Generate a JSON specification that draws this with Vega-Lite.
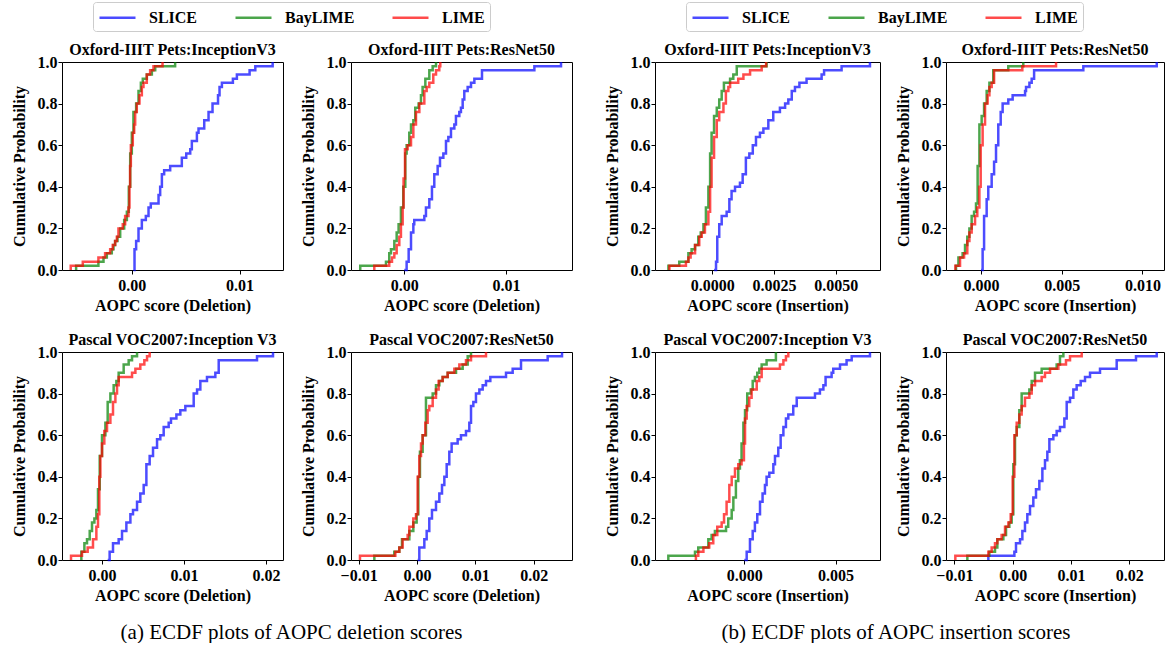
{
"$schema": "https://vega.github.io/schema/vega-lite/v6.json",
"padding": {"left": 10, "top": 1, "right": 0, "bottom": 0},
"background": "white",
"config": {
 "font": "Liberation Serif",
 "view": {"stroke": "#000000", "strokeWidth": 1},
 "axis": {"grid": false, "domain": false, "ticks": true, "tickColor": "#000000", "tickSize": 4, "tickWidth": 1, "labelFont": "Liberation Serif", "labelFontWeight": "bold", "labelFontSize": 16, "labelColor": "#000000", "labelPadding": 3, "labelFlush": false, "labelOverlap": false, "titleFont": "Liberation Serif", "titleFontWeight": "bold", "titleFontSize": 16, "titleColor": "#000000"},
 "axisX": {"titlePadding": 4},
 "axisY": {"titlePadding": 10, "labelPadding": 1},
 "title": {"font": "Liberation Serif", "fontWeight": "bold", "fontSize": 16, "color": "#000000", "offset": -4, "frame": "group", "anchor": "middle"},
 "legend": {"orient": "top", "direction": "horizontal", "symbolType": "M-1,0H3", "symbolSize": 324, "symbolStrokeWidth": 2.5, "symbolOpacity": 0.7, "labelFont": "Liberation Serif", "labelFontWeight": "bold", "labelFontSize": 16, "labelColor": "#000000", "labelOffset": 30, "columnPadding": 32, "padding": 5, "strokeColor": "#cccccc", "cornerRadius": 3, "fillColor": "#ffffff", "offset": 10, "layout": {"top": {"anchor": "middle"}}}
},
"datasets": {
"p1": [
{"method":"SLICE","score":0.00015,"prob":0},{"method":"SLICE","score":0.00025,"prob":0.1},{"method":"SLICE","score":0.0004,"prob":0.14},{"method":"SLICE","score":0.00062,"prob":0.2},{"method":"SLICE","score":0.00093,"prob":0.24},{"method":"SLICE","score":0.0013,"prob":0.26},{"method":"SLICE","score":0.00155,"prob":0.3},{"method":"SLICE","score":0.00176,"prob":0.32},{"method":"SLICE","score":0.00248,"prob":0.36},{"method":"SLICE","score":0.00263,"prob":0.4},{"method":"SLICE","score":0.00279,"prob":0.46},{"method":"SLICE","score":0.003,"prob":0.48},{"method":"SLICE","score":0.00356,"prob":0.5},{"method":"SLICE","score":0.00464,"prob":0.54},{"method":"SLICE","score":0.00505,"prob":0.56},{"method":"SLICE","score":0.00542,"prob":0.58},{"method":"SLICE","score":0.00557,"prob":0.62},{"method":"SLICE","score":0.00604,"prob":0.66},{"method":"SLICE","score":0.00619,"prob":0.68},{"method":"SLICE","score":0.00672,"prob":0.72},{"method":"SLICE","score":0.00712,"prob":0.76},{"method":"SLICE","score":0.00749,"prob":0.8},{"method":"SLICE","score":0.008,"prob":0.84},{"method":"SLICE","score":0.00814,"prob":0.88},{"method":"SLICE","score":0.00836,"prob":0.9},{"method":"SLICE","score":0.00938,"prob":0.92},{"method":"SLICE","score":0.00975,"prob":0.94},{"method":"SLICE","score":0.01093,"prob":0.96},{"method":"SLICE","score":0.01146,"prob":0.98},{"method":"SLICE","score":0.01307,"prob":1.0},
{"method":"BayLIME","score":-0.00517,"prob":0},{"method":"BayLIME","score":-0.00517,"prob":0.02},{"method":"BayLIME","score":-0.0031,"prob":0.04},{"method":"BayLIME","score":-0.00263,"prob":0.06},{"method":"BayLIME","score":-0.00232,"prob":0.08},{"method":"BayLIME","score":-0.00186,"prob":0.1},{"method":"BayLIME","score":-0.0017,"prob":0.12},{"method":"BayLIME","score":-0.00155,"prob":0.14},{"method":"BayLIME","score":-0.00133,"prob":0.16},{"method":"BayLIME","score":-0.00108,"prob":0.2},{"method":"BayLIME","score":-0.00071,"prob":0.24},{"method":"BayLIME","score":-0.00046,"prob":0.28},{"method":"BayLIME","score":-0.00028,"prob":0.4},{"method":"BayLIME","score":-0.00015,"prob":0.56},{"method":"BayLIME","score":0,"prob":0.66},{"method":"BayLIME","score":0.00015,"prob":0.76},{"method":"BayLIME","score":0.0004,"prob":0.8},{"method":"BayLIME","score":0.00062,"prob":0.86},{"method":"BayLIME","score":0.00084,"prob":0.9},{"method":"BayLIME","score":0.00102,"prob":0.92},{"method":"BayLIME","score":0.00139,"prob":0.94},{"method":"BayLIME","score":0.00186,"prob":0.96},{"method":"BayLIME","score":0.00217,"prob":0.98},{"method":"BayLIME","score":0.00402,"prob":1.0},
{"method":"LIME","score":-0.00567,"prob":0},{"method":"LIME","score":-0.00567,"prob":0.02},{"method":"LIME","score":-0.00455,"prob":0.04},{"method":"LIME","score":-0.0031,"prob":0.06},{"method":"LIME","score":-0.00248,"prob":0.08},{"method":"LIME","score":-0.00201,"prob":0.1},{"method":"LIME","score":-0.00177,"prob":0.12},{"method":"LIME","score":-0.00155,"prob":0.14},{"method":"LIME","score":-0.00139,"prob":0.16},{"method":"LIME","score":-0.00124,"prob":0.2},{"method":"LIME","score":-0.00084,"prob":0.22},{"method":"LIME","score":-0.00062,"prob":0.26},{"method":"LIME","score":-0.00031,"prob":0.3},{"method":"LIME","score":-0.00022,"prob":0.4},{"method":"LIME","score":-0.00016,"prob":0.5},{"method":"LIME","score":-0.00009,"prob":0.6},{"method":"LIME","score":0.00009,"prob":0.66},{"method":"LIME","score":0.00022,"prob":0.7},{"method":"LIME","score":0.00031,"prob":0.76},{"method":"LIME","score":0.00046,"prob":0.8},{"method":"LIME","score":0.00071,"prob":0.84},{"method":"LIME","score":0.00093,"prob":0.88},{"method":"LIME","score":0.00108,"prob":0.9},{"method":"LIME","score":0.00139,"prob":0.94},{"method":"LIME","score":0.0017,"prob":0.96},{"method":"LIME","score":0.00201,"prob":0.98},{"method":"LIME","score":0.00285,"prob":1.0}
],
"p2": [
{"method":"SLICE","score":0,"prob":0},{"method":"SLICE","score":0.00023,"prob":0.04},{"method":"SLICE","score":0.00043,"prob":0.1},{"method":"SLICE","score":0.00066,"prob":0.18},{"method":"SLICE","score":0.00089,"prob":0.22},{"method":"SLICE","score":0.00098,"prob":0.24},{"method":"SLICE","score":0.00197,"prob":0.26},{"method":"SLICE","score":0.00213,"prob":0.3},{"method":"SLICE","score":0.00246,"prob":0.34},{"method":"SLICE","score":0.00272,"prob":0.4},{"method":"SLICE","score":0.00295,"prob":0.46},{"method":"SLICE","score":0.00328,"prob":0.5},{"method":"SLICE","score":0.00351,"prob":0.54},{"method":"SLICE","score":0.00384,"prob":0.56},{"method":"SLICE","score":0.0041,"prob":0.62},{"method":"SLICE","score":0.00433,"prob":0.64},{"method":"SLICE","score":0.00459,"prob":0.68},{"method":"SLICE","score":0.00492,"prob":0.7},{"method":"SLICE","score":0.00508,"prob":0.74},{"method":"SLICE","score":0.00541,"prob":0.76},{"method":"SLICE","score":0.00557,"prob":0.78},{"method":"SLICE","score":0.00574,"prob":0.82},{"method":"SLICE","score":0.0059,"prob":0.86},{"method":"SLICE","score":0.00623,"prob":0.88},{"method":"SLICE","score":0.00656,"prob":0.9},{"method":"SLICE","score":0.00689,"prob":0.92},{"method":"SLICE","score":0.00764,"prob":0.96},{"method":"SLICE","score":0.01279,"prob":0.98},{"method":"SLICE","score":0.01541,"prob":1.0},
{"method":"BayLIME","score":-0.00433,"prob":0},{"method":"BayLIME","score":-0.00433,"prob":0.02},{"method":"BayLIME","score":-0.0018,"prob":0.04},{"method":"BayLIME","score":-0.00148,"prob":0.08},{"method":"BayLIME","score":-0.00131,"prob":0.1},{"method":"BayLIME","score":-0.00098,"prob":0.14},{"method":"BayLIME","score":-0.00075,"prob":0.18},{"method":"BayLIME","score":-0.00056,"prob":0.22},{"method":"BayLIME","score":-0.00033,"prob":0.3},{"method":"BayLIME","score":-0.0001,"prob":0.4},{"method":"BayLIME","score":0.0001,"prob":0.56},{"method":"BayLIME","score":0.00023,"prob":0.6},{"method":"BayLIME","score":0.00049,"prob":0.66},{"method":"BayLIME","score":0.00066,"prob":0.7},{"method":"BayLIME","score":0.00089,"prob":0.72},{"method":"BayLIME","score":0.00108,"prob":0.78},{"method":"BayLIME","score":0.00141,"prob":0.8},{"method":"BayLIME","score":0.00164,"prob":0.84},{"method":"BayLIME","score":0.0018,"prob":0.88},{"method":"BayLIME","score":0.00207,"prob":0.92},{"method":"BayLIME","score":0.00246,"prob":0.96},{"method":"BayLIME","score":0.00279,"prob":0.98},{"method":"BayLIME","score":0.00312,"prob":1.0},
{"method":"LIME","score":-0.00295,"prob":0},{"method":"LIME","score":-0.00295,"prob":0.02},{"method":"LIME","score":-0.00148,"prob":0.04},{"method":"LIME","score":-0.00121,"prob":0.06},{"method":"LIME","score":-0.00098,"prob":0.08},{"method":"LIME","score":-0.00075,"prob":0.12},{"method":"LIME","score":-0.00049,"prob":0.16},{"method":"LIME","score":-0.00033,"prob":0.22},{"method":"LIME","score":-0.00016,"prob":0.3},{"method":"LIME","score":-0.00007,"prob":0.44},{"method":"LIME","score":0.00007,"prob":0.58},{"method":"LIME","score":0.00033,"prob":0.6},{"method":"LIME","score":0.00066,"prob":0.64},{"method":"LIME","score":0.00089,"prob":0.7},{"method":"LIME","score":0.00115,"prob":0.76},{"method":"LIME","score":0.00148,"prob":0.8},{"method":"LIME","score":0.00197,"prob":0.86},{"method":"LIME","score":0.0022,"prob":0.88},{"method":"LIME","score":0.00246,"prob":0.9},{"method":"LIME","score":0.00285,"prob":0.94},{"method":"LIME","score":0.00312,"prob":0.96},{"method":"LIME","score":0.00344,"prob":0.98},{"method":"LIME","score":0.00354,"prob":1.0}
],
"p3": [
{"method":"SLICE","score":0.00007,"prob":0},{"method":"SLICE","score":0.00015,"prob":0.04},{"method":"SLICE","score":0.0002,"prob":0.16},{"method":"SLICE","score":0.00028,"prob":0.22},{"method":"SLICE","score":0.00038,"prob":0.26},{"method":"SLICE","score":0.00058,"prob":0.28},{"method":"SLICE","score":0.00069,"prob":0.34},{"method":"SLICE","score":0.00078,"prob":0.38},{"method":"SLICE","score":0.00092,"prob":0.4},{"method":"SLICE","score":0.00112,"prob":0.42},{"method":"SLICE","score":0.00123,"prob":0.46},{"method":"SLICE","score":0.00136,"prob":0.54},{"method":"SLICE","score":0.0015,"prob":0.56},{"method":"SLICE","score":0.00164,"prob":0.6},{"method":"SLICE","score":0.00177,"prob":0.64},{"method":"SLICE","score":0.00193,"prob":0.66},{"method":"SLICE","score":0.00207,"prob":0.68},{"method":"SLICE","score":0.00227,"prob":0.72},{"method":"SLICE","score":0.00247,"prob":0.76},{"method":"SLICE","score":0.00274,"prob":0.78},{"method":"SLICE","score":0.00295,"prob":0.8},{"method":"SLICE","score":0.00308,"prob":0.82},{"method":"SLICE","score":0.00322,"prob":0.86},{"method":"SLICE","score":0.00335,"prob":0.88},{"method":"SLICE","score":0.00353,"prob":0.9},{"method":"SLICE","score":0.00382,"prob":0.92},{"method":"SLICE","score":0.00443,"prob":0.94},{"method":"SLICE","score":0.00453,"prob":0.96},{"method":"SLICE","score":0.00524,"prob":0.98},{"method":"SLICE","score":0.00639,"prob":1.0},
{"method":"BayLIME","score":-0.00178,"prob":0},{"method":"BayLIME","score":-0.00178,"prob":0.02},{"method":"BayLIME","score":-0.00134,"prob":0.04},{"method":"BayLIME","score":-0.00097,"prob":0.08},{"method":"BayLIME","score":-0.00084,"prob":0.1},{"method":"BayLIME","score":-0.0007,"prob":0.12},{"method":"BayLIME","score":-0.00057,"prob":0.16},{"method":"BayLIME","score":-0.00047,"prob":0.18},{"method":"BayLIME","score":-0.00036,"prob":0.22},{"method":"BayLIME","score":-0.00026,"prob":0.3},{"method":"BayLIME","score":-0.00016,"prob":0.4},{"method":"BayLIME","score":-0.00009,"prob":0.56},{"method":"BayLIME","score":-0.00003,"prob":0.66},{"method":"BayLIME","score":0.00007,"prob":0.74},{"method":"BayLIME","score":0.00018,"prob":0.78},{"method":"BayLIME","score":0.00028,"prob":0.82},{"method":"BayLIME","score":0.00038,"prob":0.86},{"method":"BayLIME","score":0.00047,"prob":0.9},{"method":"BayLIME","score":0.00072,"prob":0.92},{"method":"BayLIME","score":0.00085,"prob":0.94},{"method":"BayLIME","score":0.00099,"prob":0.98},{"method":"BayLIME","score":0.0022,"prob":1.0},
{"method":"LIME","score":-0.00174,"prob":0},{"method":"LIME","score":-0.00174,"prob":0.02},{"method":"LIME","score":-0.00107,"prob":0.04},{"method":"LIME","score":-0.00097,"prob":0.06},{"method":"LIME","score":-0.00088,"prob":0.08},{"method":"LIME","score":-0.0007,"prob":0.12},{"method":"LIME","score":-0.00053,"prob":0.16},{"method":"LIME","score":-0.00043,"prob":0.18},{"method":"LIME","score":-0.0003,"prob":0.22},{"method":"LIME","score":-0.00016,"prob":0.28},{"method":"LIME","score":-0.00009,"prob":0.4},{"method":"LIME","score":-0.00003,"prob":0.54},{"method":"LIME","score":0.00007,"prob":0.64},{"method":"LIME","score":0.00018,"prob":0.72},{"method":"LIME","score":0.00028,"prob":0.76},{"method":"LIME","score":0.00045,"prob":0.8},{"method":"LIME","score":0.00055,"prob":0.86},{"method":"LIME","score":0.00065,"prob":0.88},{"method":"LIME","score":0.00072,"prob":0.9},{"method":"LIME","score":0.00105,"prob":0.92},{"method":"LIME","score":0.00126,"prob":0.94},{"method":"LIME","score":0.00153,"prob":0.96},{"method":"LIME","score":0.002,"prob":0.98},{"method":"LIME","score":0.00218,"prob":1.0}
],
"p4": [
{"method":"SLICE","score":0,"prob":0},{"method":"SLICE","score":0.0001,"prob":0.1},{"method":"SLICE","score":0.00019,"prob":0.26},{"method":"SLICE","score":0.00035,"prob":0.34},{"method":"SLICE","score":0.00045,"prob":0.4},{"method":"SLICE","score":0.00066,"prob":0.46},{"method":"SLICE","score":0.00081,"prob":0.52},{"method":"SLICE","score":0.00093,"prob":0.6},{"method":"SLICE","score":0.00107,"prob":0.7},{"method":"SLICE","score":0.00122,"prob":0.76},{"method":"SLICE","score":0.00134,"prob":0.8},{"method":"SLICE","score":0.00169,"prob":0.82},{"method":"SLICE","score":0.00196,"prob":0.84},{"method":"SLICE","score":0.00273,"prob":0.86},{"method":"SLICE","score":0.00279,"prob":0.88},{"method":"SLICE","score":0.003,"prob":0.9},{"method":"SLICE","score":0.00314,"prob":0.92},{"method":"SLICE","score":0.00329,"prob":0.96},{"method":"SLICE","score":0.00634,"prob":0.98},{"method":"SLICE","score":0.01089,"prob":1.0},
{"method":"BayLIME","score":-0.00155,"prob":0},{"method":"BayLIME","score":-0.00155,"prob":0.02},{"method":"BayLIME","score":-0.0014,"prob":0.06},{"method":"BayLIME","score":-0.00114,"prob":0.08},{"method":"BayLIME","score":-0.00099,"prob":0.12},{"method":"BayLIME","score":-0.00085,"prob":0.16},{"method":"BayLIME","score":-0.00072,"prob":0.2},{"method":"BayLIME","score":-0.00058,"prob":0.26},{"method":"BayLIME","score":-0.00043,"prob":0.28},{"method":"BayLIME","score":-0.00031,"prob":0.32},{"method":"BayLIME","score":-0.00021,"prob":0.5},{"method":"BayLIME","score":-0.0001,"prob":0.7},{"method":"BayLIME","score":0.00004,"prob":0.74},{"method":"BayLIME","score":0.00019,"prob":0.8},{"method":"BayLIME","score":0.00035,"prob":0.86},{"method":"BayLIME","score":0.00052,"prob":0.9},{"method":"BayLIME","score":0.00076,"prob":0.96},{"method":"BayLIME","score":0.00169,"prob":0.98},{"method":"BayLIME","score":0.00262,"prob":1.0},
{"method":"LIME","score":-0.00159,"prob":0},{"method":"LIME","score":-0.00159,"prob":0.02},{"method":"LIME","score":-0.0013,"prob":0.06},{"method":"LIME","score":-0.00105,"prob":0.08},{"method":"LIME","score":-0.00085,"prob":0.14},{"method":"LIME","score":-0.00072,"prob":0.18},{"method":"LIME","score":-0.00058,"prob":0.22},{"method":"LIME","score":-0.00037,"prob":0.26},{"method":"LIME","score":-0.00023,"prob":0.3},{"method":"LIME","score":-0.0001,"prob":0.4},{"method":"LIME","score":-0.00002,"prob":0.6},{"method":"LIME","score":0.0001,"prob":0.7},{"method":"LIME","score":0.00025,"prob":0.8},{"method":"LIME","score":0.00041,"prob":0.84},{"method":"LIME","score":0.00052,"prob":0.88},{"method":"LIME","score":0.00066,"prob":0.9},{"method":"LIME","score":0.00081,"prob":0.96},{"method":"LIME","score":0.00256,"prob":0.98},{"method":"LIME","score":0.00465,"prob":1.0}
],
"p5": [
{"method":"SLICE","score":0.00069,"prob":0},{"method":"SLICE","score":0.00093,"prob":0.04},{"method":"SLICE","score":0.00134,"prob":0.08},{"method":"SLICE","score":0.00203,"prob":0.1},{"method":"SLICE","score":0.00244,"prob":0.14},{"method":"SLICE","score":0.00297,"prob":0.18},{"method":"SLICE","score":0.00346,"prob":0.22},{"method":"SLICE","score":0.00378,"prob":0.24},{"method":"SLICE","score":0.00427,"prob":0.28},{"method":"SLICE","score":0.00467,"prob":0.32},{"method":"SLICE","score":0.00508,"prob":0.36},{"method":"SLICE","score":0.00541,"prob":0.46},{"method":"SLICE","score":0.00581,"prob":0.5},{"method":"SLICE","score":0.00622,"prob":0.54},{"method":"SLICE","score":0.00671,"prob":0.58},{"method":"SLICE","score":0.00711,"prob":0.6},{"method":"SLICE","score":0.00752,"prob":0.64},{"method":"SLICE","score":0.00813,"prob":0.66},{"method":"SLICE","score":0.00841,"prob":0.68},{"method":"SLICE","score":0.00907,"prob":0.7},{"method":"SLICE","score":0.00955,"prob":0.72},{"method":"SLICE","score":0.01016,"prob":0.74},{"method":"SLICE","score":0.01118,"prob":0.8},{"method":"SLICE","score":0.01159,"prob":0.82},{"method":"SLICE","score":0.01199,"prob":0.86},{"method":"SLICE","score":0.0128,"prob":0.88},{"method":"SLICE","score":0.01382,"prob":0.9},{"method":"SLICE","score":0.01423,"prob":0.96},{"method":"SLICE","score":0.0189,"prob":0.98},{"method":"SLICE","score":0.02085,"prob":1.0},
{"method":"BayLIME","score":-0.00252,"prob":0},{"method":"BayLIME","score":-0.00252,"prob":0.04},{"method":"BayLIME","score":-0.00215,"prob":0.08},{"method":"BayLIME","score":-0.00183,"prob":0.1},{"method":"BayLIME","score":-0.0015,"prob":0.14},{"method":"BayLIME","score":-0.00122,"prob":0.18},{"method":"BayLIME","score":-0.00093,"prob":0.2},{"method":"BayLIME","score":-0.00069,"prob":0.24},{"method":"BayLIME","score":-0.00049,"prob":0.34},{"method":"BayLIME","score":-0.00028,"prob":0.5},{"method":"BayLIME","score":0,"prob":0.6},{"method":"BayLIME","score":0.00041,"prob":0.66},{"method":"BayLIME","score":0.00069,"prob":0.76},{"method":"BayLIME","score":0.00102,"prob":0.8},{"method":"BayLIME","score":0.00142,"prob":0.84},{"method":"BayLIME","score":0.00175,"prob":0.86},{"method":"BayLIME","score":0.00203,"prob":0.9},{"method":"BayLIME","score":0.00264,"prob":0.94},{"method":"BayLIME","score":0.00325,"prob":0.96},{"method":"BayLIME","score":0.00366,"prob":0.98},{"method":"BayLIME","score":0.00427,"prob":1.0},
{"method":"LIME","score":-0.00378,"prob":0},{"method":"LIME","score":-0.00378,"prob":0.02},{"method":"LIME","score":-0.00244,"prob":0.04},{"method":"LIME","score":-0.00175,"prob":0.06},{"method":"LIME","score":-0.0011,"prob":0.1},{"method":"LIME","score":-0.00069,"prob":0.16},{"method":"LIME","score":-0.00049,"prob":0.22},{"method":"LIME","score":-0.00033,"prob":0.4},{"method":"LIME","score":-0.0002,"prob":0.5},{"method":"LIME","score":0,"prob":0.56},{"method":"LIME","score":0.00028,"prob":0.62},{"method":"LIME","score":0.00061,"prob":0.66},{"method":"LIME","score":0.00102,"prob":0.7},{"method":"LIME","score":0.00134,"prob":0.76},{"method":"LIME","score":0.00163,"prob":0.8},{"method":"LIME","score":0.00183,"prob":0.84},{"method":"LIME","score":0.00203,"prob":0.88},{"method":"LIME","score":0.00366,"prob":0.9},{"method":"LIME","score":0.00407,"prob":0.92},{"method":"LIME","score":0.00467,"prob":0.94},{"method":"LIME","score":0.00516,"prob":0.96},{"method":"LIME","score":0.00549,"prob":0.98},{"method":"LIME","score":0.00581,"prob":1.0}
],
"p6": [
{"method":"SLICE","score":0.00011,"prob":0},{"method":"SLICE","score":0.0004,"prob":0.06},{"method":"SLICE","score":0.00126,"prob":0.1},{"method":"SLICE","score":0.00166,"prob":0.14},{"method":"SLICE","score":0.00211,"prob":0.2},{"method":"SLICE","score":0.00257,"prob":0.24},{"method":"SLICE","score":0.00326,"prob":0.28},{"method":"SLICE","score":0.00383,"prob":0.32},{"method":"SLICE","score":0.00429,"prob":0.36},{"method":"SLICE","score":0.00469,"prob":0.4},{"method":"SLICE","score":0.00509,"prob":0.46},{"method":"SLICE","score":0.00554,"prob":0.52},{"method":"SLICE","score":0.00594,"prob":0.56},{"method":"SLICE","score":0.00697,"prob":0.58},{"method":"SLICE","score":0.00754,"prob":0.6},{"method":"SLICE","score":0.0084,"prob":0.62},{"method":"SLICE","score":0.00897,"prob":0.66},{"method":"SLICE","score":0.00926,"prob":0.74},{"method":"SLICE","score":0.00966,"prob":0.76},{"method":"SLICE","score":0.01011,"prob":0.8},{"method":"SLICE","score":0.01069,"prob":0.82},{"method":"SLICE","score":0.01126,"prob":0.84},{"method":"SLICE","score":0.01183,"prob":0.86},{"method":"SLICE","score":0.01257,"prob":0.88},{"method":"SLICE","score":0.01526,"prob":0.9},{"method":"SLICE","score":0.0164,"prob":0.92},{"method":"SLICE","score":0.01783,"prob":0.96},{"method":"SLICE","score":0.0224,"prob":0.98},{"method":"SLICE","score":0.02486,"prob":1.0},
{"method":"BayLIME","score":-0.00731,"prob":0},{"method":"BayLIME","score":-0.00731,"prob":0.02},{"method":"BayLIME","score":-0.00389,"prob":0.04},{"method":"BayLIME","score":-0.00303,"prob":0.06},{"method":"BayLIME","score":-0.00257,"prob":0.1},{"method":"BayLIME","score":-0.00131,"prob":0.14},{"method":"BayLIME","score":-0.00063,"prob":0.18},{"method":"BayLIME","score":-0.00006,"prob":0.22},{"method":"BayLIME","score":0.00023,"prob":0.4},{"method":"BayLIME","score":0.00051,"prob":0.52},{"method":"BayLIME","score":0.00097,"prob":0.6},{"method":"BayLIME","score":0.00154,"prob":0.78},{"method":"BayLIME","score":0.00269,"prob":0.8},{"method":"BayLIME","score":0.00326,"prob":0.84},{"method":"BayLIME","score":0.00383,"prob":0.86},{"method":"BayLIME","score":0.0044,"prob":0.88},{"method":"BayLIME","score":0.00526,"prob":0.9},{"method":"BayLIME","score":0.00669,"prob":0.92},{"method":"BayLIME","score":0.00783,"prob":0.94},{"method":"BayLIME","score":0.00869,"prob":0.98},{"method":"BayLIME","score":0.00926,"prob":1.0},
{"method":"LIME","score":-0.00977,"prob":0},{"method":"LIME","score":-0.00977,"prob":0.02},{"method":"LIME","score":-0.00371,"prob":0.04},{"method":"LIME","score":-0.00303,"prob":0.06},{"method":"LIME","score":-0.00246,"prob":0.1},{"method":"LIME","score":-0.0016,"prob":0.12},{"method":"LIME","score":-0.00131,"prob":0.16},{"method":"LIME","score":-0.00063,"prob":0.2},{"method":"LIME","score":-0.00017,"prob":0.22},{"method":"LIME","score":0.00011,"prob":0.4},{"method":"LIME","score":0.0004,"prob":0.5},{"method":"LIME","score":0.00069,"prob":0.56},{"method":"LIME","score":0.00097,"prob":0.6},{"method":"LIME","score":0.00143,"prob":0.66},{"method":"LIME","score":0.00183,"prob":0.72},{"method":"LIME","score":0.00211,"prob":0.74},{"method":"LIME","score":0.00269,"prob":0.78},{"method":"LIME","score":0.00326,"prob":0.82},{"method":"LIME","score":0.00371,"prob":0.86},{"method":"LIME","score":0.0044,"prob":0.88},{"method":"LIME","score":0.00526,"prob":0.9},{"method":"LIME","score":0.0064,"prob":0.92},{"method":"LIME","score":0.00726,"prob":0.94},{"method":"LIME","score":0.0084,"prob":0.96},{"method":"LIME","score":0.00926,"prob":0.98},{"method":"LIME","score":0.01183,"prob":1.0}
],
"p7": [
{"method":"SLICE","score":0,"prob":0},{"method":"SLICE","score":0.00013,"prob":0.04},{"method":"SLICE","score":0.00031,"prob":0.1},{"method":"SLICE","score":0.00046,"prob":0.14},{"method":"SLICE","score":0.00058,"prob":0.18},{"method":"SLICE","score":0.00071,"prob":0.22},{"method":"SLICE","score":0.00086,"prob":0.28},{"method":"SLICE","score":0.001,"prob":0.32},{"method":"SLICE","score":0.00113,"prob":0.36},{"method":"SLICE","score":0.00122,"prob":0.4},{"method":"SLICE","score":0.00137,"prob":0.42},{"method":"SLICE","score":0.00159,"prob":0.46},{"method":"SLICE","score":0.00168,"prob":0.5},{"method":"SLICE","score":0.00186,"prob":0.54},{"method":"SLICE","score":0.00199,"prob":0.6},{"method":"SLICE","score":0.00214,"prob":0.64},{"method":"SLICE","score":0.00228,"prob":0.68},{"method":"SLICE","score":0.00241,"prob":0.7},{"method":"SLICE","score":0.00268,"prob":0.74},{"method":"SLICE","score":0.00287,"prob":0.78},{"method":"SLICE","score":0.00387,"prob":0.8},{"method":"SLICE","score":0.00414,"prob":0.82},{"method":"SLICE","score":0.00433,"prob":0.84},{"method":"SLICE","score":0.00445,"prob":0.88},{"method":"SLICE","score":0.00478,"prob":0.9},{"method":"SLICE","score":0.00487,"prob":0.92},{"method":"SLICE","score":0.00524,"prob":0.94},{"method":"SLICE","score":0.0056,"prob":0.96},{"method":"SLICE","score":0.00588,"prob":0.98},{"method":"SLICE","score":0.00688,"prob":1.0},
{"method":"BayLIME","score":-0.00416,"prob":0},{"method":"BayLIME","score":-0.00416,"prob":0.02},{"method":"BayLIME","score":-0.0027,"prob":0.04},{"method":"BayLIME","score":-0.00252,"prob":0.06},{"method":"BayLIME","score":-0.00197,"prob":0.1},{"method":"BayLIME","score":-0.00179,"prob":0.12},{"method":"BayLIME","score":-0.00161,"prob":0.14},{"method":"BayLIME","score":-0.001,"prob":0.16},{"method":"BayLIME","score":-0.00088,"prob":0.2},{"method":"BayLIME","score":-0.00069,"prob":0.24},{"method":"BayLIME","score":-0.0006,"prob":0.3},{"method":"BayLIME","score":-0.00046,"prob":0.38},{"method":"BayLIME","score":-0.00033,"prob":0.44},{"method":"BayLIME","score":-0.00024,"prob":0.48},{"method":"BayLIME","score":-0.00015,"prob":0.56},{"method":"BayLIME","score":-0.00005,"prob":0.66},{"method":"BayLIME","score":0.00004,"prob":0.72},{"method":"BayLIME","score":0.00016,"prob":0.8},{"method":"BayLIME","score":0.00035,"prob":0.82},{"method":"BayLIME","score":0.00046,"prob":0.86},{"method":"BayLIME","score":0.00058,"prob":0.88},{"method":"BayLIME","score":0.00071,"prob":0.9},{"method":"BayLIME","score":0.00082,"prob":0.92},{"method":"BayLIME","score":0.00095,"prob":0.94},{"method":"BayLIME","score":0.00122,"prob":0.96},{"method":"BayLIME","score":0.00173,"prob":1.0},
{"method":"LIME","score":-0.00265,"prob":0},{"method":"LIME","score":-0.00265,"prob":0.02},{"method":"LIME","score":-0.00252,"prob":0.04},{"method":"LIME","score":-0.00224,"prob":0.06},{"method":"LIME","score":-0.00192,"prob":0.08},{"method":"LIME","score":-0.0017,"prob":0.12},{"method":"LIME","score":-0.00148,"prob":0.16},{"method":"LIME","score":-0.00124,"prob":0.18},{"method":"LIME","score":-0.00111,"prob":0.22},{"method":"LIME","score":-0.00097,"prob":0.28},{"method":"LIME","score":-0.00082,"prob":0.36},{"method":"LIME","score":-0.00069,"prob":0.4},{"method":"LIME","score":-0.00051,"prob":0.44},{"method":"LIME","score":-0.00033,"prob":0.46},{"method":"LIME","score":-0.00015,"prob":0.48},{"method":"LIME","score":-0.00002,"prob":0.56},{"method":"LIME","score":0.00004,"prob":0.68},{"method":"LIME","score":0.00013,"prob":0.74},{"method":"LIME","score":0.00027,"prob":0.78},{"method":"LIME","score":0.0004,"prob":0.82},{"method":"LIME","score":0.00068,"prob":0.86},{"method":"LIME","score":0.00082,"prob":0.88},{"method":"LIME","score":0.00095,"prob":0.92},{"method":"LIME","score":0.00195,"prob":0.94},{"method":"LIME","score":0.00214,"prob":0.96},{"method":"LIME","score":0.00228,"prob":0.98},{"method":"LIME","score":0.00241,"prob":1.0}
],
"p8": [
{"method":"SLICE","score":-0.00417,"prob":0},{"method":"SLICE","score":-0.00417,"prob":0.02},{"method":"SLICE","score":0.00029,"prob":0.04},{"method":"SLICE","score":0.00057,"prob":0.08},{"method":"SLICE","score":0.00126,"prob":0.1},{"method":"SLICE","score":0.00166,"prob":0.14},{"method":"SLICE","score":0.00211,"prob":0.18},{"method":"SLICE","score":0.00251,"prob":0.22},{"method":"SLICE","score":0.00297,"prob":0.26},{"method":"SLICE","score":0.00354,"prob":0.3},{"method":"SLICE","score":0.004,"prob":0.34},{"method":"SLICE","score":0.00457,"prob":0.38},{"method":"SLICE","score":0.00509,"prob":0.44},{"method":"SLICE","score":0.00554,"prob":0.48},{"method":"SLICE","score":0.00594,"prob":0.52},{"method":"SLICE","score":0.00629,"prob":0.58},{"method":"SLICE","score":0.00697,"prob":0.6},{"method":"SLICE","score":0.00754,"prob":0.62},{"method":"SLICE","score":0.00811,"prob":0.64},{"method":"SLICE","score":0.00886,"prob":0.68},{"method":"SLICE","score":0.00926,"prob":0.76},{"method":"SLICE","score":0.00983,"prob":0.78},{"method":"SLICE","score":0.0104,"prob":0.82},{"method":"SLICE","score":0.01097,"prob":0.84},{"method":"SLICE","score":0.01166,"prob":0.86},{"method":"SLICE","score":0.0124,"prob":0.88},{"method":"SLICE","score":0.01326,"prob":0.9},{"method":"SLICE","score":0.01497,"prob":0.92},{"method":"SLICE","score":0.01783,"prob":0.96},{"method":"SLICE","score":0.02114,"prob":0.98},{"method":"SLICE","score":0.02469,"prob":1.0},
{"method":"BayLIME","score":-0.00777,"prob":0},{"method":"BayLIME","score":-0.00777,"prob":0.02},{"method":"BayLIME","score":-0.004,"prob":0.04},{"method":"BayLIME","score":-0.00303,"prob":0.06},{"method":"BayLIME","score":-0.00263,"prob":0.1},{"method":"BayLIME","score":-0.0016,"prob":0.12},{"method":"BayLIME","score":-0.00114,"prob":0.16},{"method":"BayLIME","score":-0.00057,"prob":0.18},{"method":"BayLIME","score":-0.00017,"prob":0.22},{"method":"BayLIME","score":0.00011,"prob":0.46},{"method":"BayLIME","score":0.0004,"prob":0.6},{"method":"BayLIME","score":0.00069,"prob":0.64},{"method":"BayLIME","score":0.00114,"prob":0.72},{"method":"BayLIME","score":0.00154,"prob":0.8},{"method":"BayLIME","score":0.00286,"prob":0.82},{"method":"BayLIME","score":0.00326,"prob":0.86},{"method":"BayLIME","score":0.00383,"prob":0.9},{"method":"BayLIME","score":0.00497,"prob":0.92},{"method":"BayLIME","score":0.00754,"prob":0.94},{"method":"BayLIME","score":0.00811,"prob":0.98},{"method":"BayLIME","score":0.00869,"prob":1.0},
{"method":"LIME","score":-0.00983,"prob":0},{"method":"LIME","score":-0.00983,"prob":0.02},{"method":"LIME","score":-0.00417,"prob":0.04},{"method":"LIME","score":-0.0036,"prob":0.06},{"method":"LIME","score":-0.00303,"prob":0.08},{"method":"LIME","score":-0.00263,"prob":0.1},{"method":"LIME","score":-0.00189,"prob":0.12},{"method":"LIME","score":-0.00131,"prob":0.16},{"method":"LIME","score":-0.00074,"prob":0.18},{"method":"LIME","score":-0.00034,"prob":0.22},{"method":"LIME","score":0,"prob":0.4},{"method":"LIME","score":0.00029,"prob":0.6},{"method":"LIME","score":0.00069,"prob":0.66},{"method":"LIME","score":0.00114,"prob":0.7},{"method":"LIME","score":0.00154,"prob":0.74},{"method":"LIME","score":0.00211,"prob":0.78},{"method":"LIME","score":0.00286,"prob":0.8},{"method":"LIME","score":0.00326,"prob":0.84},{"method":"LIME","score":0.00383,"prob":0.86},{"method":"LIME","score":0.00497,"prob":0.88},{"method":"LIME","score":0.00554,"prob":0.9},{"method":"LIME","score":0.0064,"prob":0.92},{"method":"LIME","score":0.00783,"prob":0.94},{"method":"LIME","score":0.00914,"prob":0.96},{"method":"LIME","score":0.00983,"prob":0.98},{"method":"LIME","score":0.01183,"prob":1.0}
]
},
"resolve": {"scale": {"color": "independent"}, "legend": {"color": "independent"}},
"spacing": 30,
"hconcat": [
{
 "title": {"text": "(a) ECDF plots of AOPC deletion scores", "orient": "bottom", "fontWeight": "normal", "fontSize": 21, "offset": 18, "frame": "bounds", "anchor": "middle"},
 "spacing": 17,
 "vconcat": [
  {"spacing": 15, "hconcat": [
   {"width": 221, "height": 208, "title": "Oxford-IIIT Pets:InceptionV3", "data": {"name": "p1"},
    "mark": {"type": "line", "interpolate": "step-after", "strokeWidth": 2.5, "strokeOpacity": 0.7},
    "encoding": {
     "x": {"field": "score", "type": "quantitative", "scale": {"domain": [-0.00648, 0.01403], "nice": false, "zero": false}, "axis": {"title": "AOPC score (Deletion)", "values": [0, 0.01], "format": ".2f"}},
     "y": {"field": "prob", "type": "quantitative", "scale": {"domain": [0, 1], "nice": false}, "axis": {"title": "Cumulative Probability", "values": [0, 0.2, 0.4, 0.6, 0.8, 1], "format": ".1f"}},
     "color": {"field": "method", "type": "nominal", "scale": {"domain": ["SLICE", "BayLIME", "LIME"], "range": ["#0000ff", "#008000", "#ff0000"]}, "legend": {"title": null}},
     "order": {"field": "prob", "type": "quantitative"}}},
   {"width": 221, "height": 208, "title": "Oxford-IIIT Pets:ResNet50", "data": {"name": "p2"},
    "mark": {"type": "line", "interpolate": "step-after", "strokeWidth": 2.5, "strokeOpacity": 0.7},
    "encoding": {
     "x": {"field": "score", "type": "quantitative", "scale": {"domain": [-0.00524, 0.01649], "nice": false, "zero": false}, "axis": {"title": "AOPC score (Deletion)", "values": [0, 0.01], "format": ".2f"}},
     "y": {"field": "prob", "type": "quantitative", "scale": {"domain": [0, 1], "nice": false}, "axis": {"title": "Cumulative Probability", "values": [0, 0.2, 0.4, 0.6, 0.8, 1], "format": ".1f"}},
     "color": {"field": "method", "type": "nominal", "scale": {"domain": ["SLICE", "BayLIME", "LIME"], "range": ["#0000ff", "#008000", "#ff0000"]}, "legend": {"title": null}},
     "order": {"field": "prob", "type": "quantitative"}}}
  ]},
  {"spacing": 15, "hconcat": [
   {"width": 221, "height": 208, "title": "Pascal VOC2007:Inception V3", "data": {"name": "p5"},
    "mark": {"type": "line", "interpolate": "step-after", "strokeWidth": 2.5, "strokeOpacity": 0.7},
    "encoding": {
     "x": {"field": "score", "type": "quantitative", "scale": {"domain": [-0.00488, 0.02207], "nice": false, "zero": false}, "axis": {"title": "AOPC score (Deletion)", "values": [0, 0.01, 0.02], "format": ".2f"}},
     "y": {"field": "prob", "type": "quantitative", "scale": {"domain": [0, 1], "nice": false}, "axis": {"title": "Cumulative Probability", "values": [0, 0.2, 0.4, 0.6, 0.8, 1], "format": ".1f"}},
     "color": {"field": "method", "type": "nominal", "scale": {"domain": ["SLICE", "BayLIME", "LIME"], "range": ["#0000ff", "#008000", "#ff0000"]}, "legend": {"title": null}},
     "order": {"field": "prob", "type": "quantitative"}}},
   {"width": 221, "height": 208, "title": "Pascal VOC2007:ResNet50", "data": {"name": "p6"},
    "mark": {"type": "line", "interpolate": "step-after", "strokeWidth": 2.5, "strokeOpacity": 0.7},
    "encoding": {
     "x": {"field": "score", "type": "quantitative", "scale": {"domain": [-0.01131, 0.02657], "nice": false, "zero": false}, "axis": {"title": "AOPC score (Deletion)", "values": [-0.01, 0, 0.01, 0.02], "format": ".2f"}},
     "y": {"field": "prob", "type": "quantitative", "scale": {"domain": [0, 1], "nice": false}, "axis": {"title": "Cumulative Probability", "values": [0, 0.2, 0.4, 0.6, 0.8, 1], "format": ".1f"}},
     "color": {"field": "method", "type": "nominal", "scale": {"domain": ["SLICE", "BayLIME", "LIME"], "range": ["#0000ff", "#008000", "#ff0000"]}, "legend": {"title": null}},
     "order": {"field": "prob", "type": "quantitative"}}}
  ]}
 ]
},
{
 "title": {"text": "(b) ECDF plots of AOPC insertion scores", "orient": "bottom", "fontWeight": "normal", "fontSize": 21, "offset": 18, "frame": "bounds", "anchor": "middle", "dx": 12},
 "spacing": 17,
 "vconcat": [
  {"spacing": 13, "hconcat": [
   {"width": 225, "height": 208, "title": "Oxford-IIIT Pets:InceptionV3", "data": {"name": "p3"},
    "mark": {"type": "line", "interpolate": "step-after", "strokeWidth": 2.5, "strokeOpacity": 0.7},
    "encoding": {
     "x": {"field": "score", "type": "quantitative", "scale": {"domain": [-0.002324, 0.006797], "nice": false, "zero": false}, "axis": {"title": "AOPC score (Insertion)", "values": [0, 0.0025, 0.005], "format": ".4f"}},
     "y": {"field": "prob", "type": "quantitative", "scale": {"domain": [0, 1], "nice": false}, "axis": {"title": "Cumulative Probability", "values": [0, 0.2, 0.4, 0.6, 0.8, 1], "format": ".1f"}},
     "color": {"field": "method", "type": "nominal", "scale": {"domain": ["SLICE", "BayLIME", "LIME"], "range": ["#0000ff", "#008000", "#ff0000"]}, "legend": {"title": null}},
     "order": {"field": "prob", "type": "quantitative"}}},
   {"width": 218, "height": 208, "title": "Oxford-IIIT Pets:ResNet50", "data": {"name": "p4"},
    "mark": {"type": "line", "interpolate": "step-after", "strokeWidth": 2.5, "strokeOpacity": 0.7},
    "encoding": {
     "x": {"field": "score", "type": "quantitative", "scale": {"domain": [-0.00217, 0.01134], "nice": false, "zero": false}, "axis": {"title": "AOPC score (Insertion)", "values": [0, 0.005, 0.01], "format": ".3f"}},
     "y": {"field": "prob", "type": "quantitative", "scale": {"domain": [0, 1], "nice": false}, "axis": {"title": "Cumulative Probability", "values": [0, 0.2, 0.4, 0.6, 0.8, 1], "format": ".1f"}},
     "color": {"field": "method", "type": "nominal", "scale": {"domain": ["SLICE", "BayLIME", "LIME"], "range": ["#0000ff", "#008000", "#ff0000"]}, "legend": {"title": null}},
     "order": {"field": "prob", "type": "quantitative"}}}
  ]},
  {"spacing": 13, "hconcat": [
   {"width": 225, "height": 208, "title": "Pascal VOC2007:Inception V3", "data": {"name": "p7"},
    "mark": {"type": "line", "interpolate": "step-after", "strokeWidth": 2.5, "strokeOpacity": 0.7},
    "encoding": {
     "x": {"field": "score", "type": "quantitative", "scale": {"domain": [-0.00489, 0.00743], "nice": false, "zero": false}, "axis": {"title": "AOPC score (Insertion)", "values": [0, 0.005], "format": ".3f"}},
     "y": {"field": "prob", "type": "quantitative", "scale": {"domain": [0, 1], "nice": false}, "axis": {"title": "Cumulative Probability", "values": [0, 0.2, 0.4, 0.6, 0.8, 1], "format": ".1f"}},
     "color": {"field": "method", "type": "nominal", "scale": {"domain": ["SLICE", "BayLIME", "LIME"], "range": ["#0000ff", "#008000", "#ff0000"]}, "legend": {"title": null}},
     "order": {"field": "prob", "type": "quantitative"}}},
   {"width": 218, "height": 208, "title": "Pascal VOC2007:ResNet50", "data": {"name": "p8"},
    "mark": {"type": "line", "interpolate": "step-after", "strokeWidth": 2.5, "strokeOpacity": 0.7},
    "encoding": {
     "x": {"field": "score", "type": "quantitative", "scale": {"domain": [-0.01143, 0.02594], "nice": false, "zero": false}, "axis": {"title": "AOPC score (Insertion)", "values": [-0.01, 0, 0.01, 0.02], "format": ".2f"}},
     "y": {"field": "prob", "type": "quantitative", "scale": {"domain": [0, 1], "nice": false}, "axis": {"title": "Cumulative Probability", "values": [0, 0.2, 0.4, 0.6, 0.8, 1], "format": ".1f"}},
     "color": {"field": "method", "type": "nominal", "scale": {"domain": ["SLICE", "BayLIME", "LIME"], "range": ["#0000ff", "#008000", "#ff0000"]}, "legend": {"title": null}},
     "order": {"field": "prob", "type": "quantitative"}}}
  ]}
 ]
}
]
}
